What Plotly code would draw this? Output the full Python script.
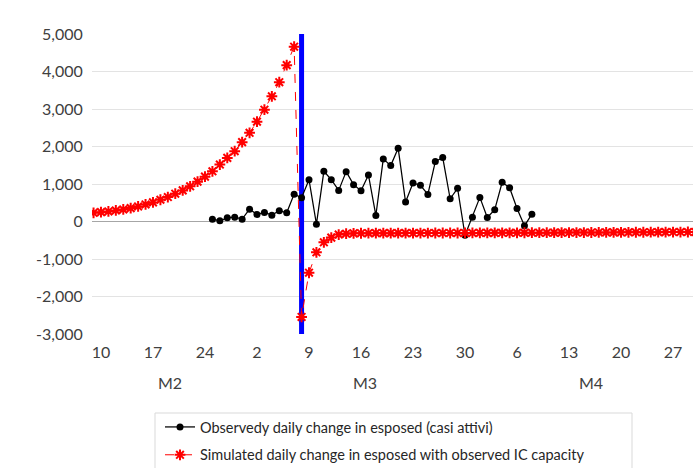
import pandas as pd
import plotly.graph_objects as go

# Simulated daily change in exposed (with observed IC capacity), daily from 9 Feb 2020
sim_start = "2020-02-09"
sim_values = [
    232, 250, 268, 295, 321, 357, 402, 455, 509, 580, 652, 741, 830, 938,
    1063, 1196, 1339, 1518, 1696, 1875, 2116, 2366, 2661, 2982, 3339, 3714,
    4170, 4661,
    -2545, -1366, -821, -554, -429, -348, -325, -316, -313, -312, -311, -311,
    -310, -310, -309, -309, -308, -308, -307, -307, -306, -306, -305, -305,
    -304, -304, -303, -302, -302, -301, -300, -299, -299, -298, -297, -296,
    -295, -294, -294, -293, -292, -291, -290, -289, -288, -287, -286, -285,
    -284, -283, -282, -281, -280, -279,
]

# Observed daily change in exposed (active cases), daily from 25 Feb 2020
obs_start = "2020-02-25"
obs_values = [
    63, 18, 98, 116, 63, 330, 188, 241, 170, 290, 232, 730, 635, 1116, -71,
    1339, 1116, 830, 1330, 982, 821, 1241, 161, 1670, 1491, 1955, 518, 1027,
    964, 723, 1598, 1705, 607, 884, -366, 116, 643, 107, 313, 1045, 902, 348,
    -116, 196,
]

# Lockdown marker date
lockdown_date = "2020-03-08"

# Axis settings
y_min, y_max = -3000, 5000
y_ticks = [-3000, -2000, -1000, 0, 1000, 2000, 3000, 4000, 5000]
y_tick_labels = ["-3,000", "-2,000", "-1,000", "0", "1,000", "2,000",
                 "3,000", "4,000", "5,000"]
x_range = ["2020-02-08 19:00", "2020-04-29 16:30"]
tick_dates = pd.date_range("2020-02-10", "2020-04-27", freq="7D")
tick_labels = ["10", "17", "24", "2", "9", "16", "23", "30", "6", "13", "20", "27"]
month_labels = ["M2", "M3", "M4"]
month_centers = ["2020-02-19 06:00", "2020-03-16 12:00", "2020-04-16 00:00"]

series_names = [
    "Observedy daily change in esposed (casi attivi)",
    "Simulated daily change in esposed with observed IC capacity",
]

sim_dates = pd.date_range(sim_start, periods=len(sim_values), freq="D")
obs_dates = pd.date_range(obs_start, periods=len(obs_values), freq="D")

FONT = "Lato, 'Open Sans', sans-serif"
TEXT = "#404040"

fig = go.Figure()

# Blue vertical marker at the lockdown date, spanning the full value range
fig.add_trace(go.Scatter(
    x=[lockdown_date, lockdown_date], y=[y_min, y_max],
    mode="lines", line=dict(color="#0000ff", width=5),
    showlegend=False, hoverinfo="skip",
))

fig.add_trace(go.Scatter(
    x=obs_dates, y=obs_values, name=series_names[0],
    mode="lines+markers", legendgroup="obs",
    line=dict(color="#000000", width=1.25),
    marker=dict(symbol="circle", size=7, color="#000000"),
))

fig.add_trace(go.Scatter(
    x=sim_dates, y=sim_values, name=series_names[1],
    mode="lines+markers", legendgroup="sim",
    line=dict(color="#ff0000", width=1, dash="dash"),
    marker=dict(symbol="asterisk-open", size=9,
                line=dict(color="#ff0000", width=2)),
))

for label, xc in zip(month_labels, month_centers):
    fig.add_annotation(
        x=xc, y=-0.16, xref="x", yref="paper", text=label,
        showarrow=False, yanchor="middle", xanchor="center",
        font=dict(family=FONT, size=16, color=TEXT),
    )

# Legend frame (open at the bottom edge of the figure)
fig.add_shape(
    type="rect", xref="paper", yref="paper",
    x0=(155 - 92) / 601, x1=(632 - 92) / 601,
    y0=-0.65, y1=(334 - 413) / 300,
    line=dict(color="#d9d9d9", width=1), fillcolor="rgba(0,0,0,0)",
    layer="below",
)

fig.update_layout(
    width=693, height=468,
    margin=dict(l=92, r=0, t=34, b=134, autoexpand=False),
    paper_bgcolor="white", plot_bgcolor="white",
    font=dict(family=FONT, color=TEXT),
    showlegend=True,
    legend=dict(
        x=(160 - 92) / 601, y=(334 - 411) / 300,
        xanchor="left", yanchor="top",
        bgcolor="rgba(0,0,0,0)", borderwidth=0,
        font=dict(family=FONT, size=14.5, color="#262626"),
        traceorder="grouped", tracegroupgap=6,
        itemwidth=30,
    ),
    xaxis=dict(
        type="date", range=x_range,
        tickvals=tick_dates, ticktext=tick_labels,
        showgrid=False, zeroline=False, showline=False,
        ticks="outside", ticklen=4, tickcolor="rgba(0,0,0,0)",
        tickfont=dict(family=FONT, size=16, color=TEXT),
        fixedrange=True,
    ),
    yaxis=dict(
        range=[y_min, y_max], tickvals=y_ticks, ticktext=y_tick_labels,
        showgrid=True, gridcolor="#e3e3e3", gridwidth=1,
        zeroline=True, zerolinecolor="#a6a6a6", zerolinewidth=1,
        showline=False,
        ticks="outside", ticklen=5, tickcolor="rgba(0,0,0,0)",
        tickfont=dict(family=FONT, size=16, color=TEXT),
        fixedrange=True,
    ),
)

fig.write_html("out.html")
